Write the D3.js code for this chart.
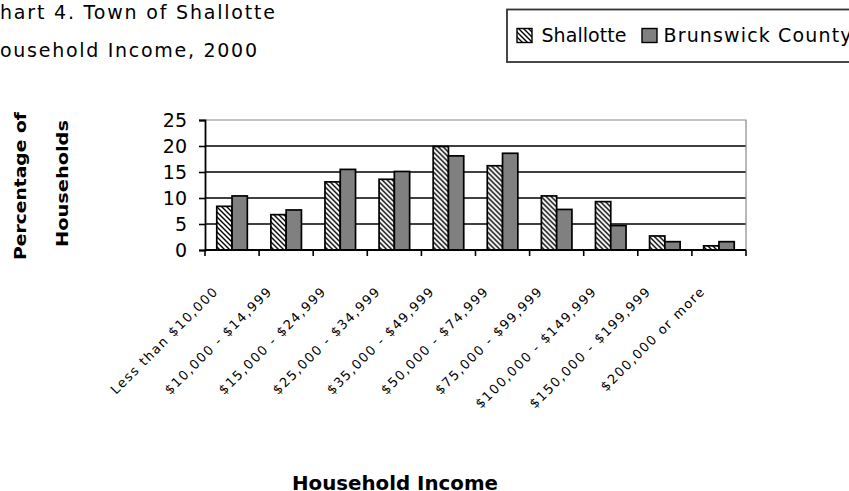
<!DOCTYPE html>
<html><head><meta charset="utf-8">
<script src="https://cdn.jsdelivr.net/npm/d3@7"></script>
<style>
html,body{margin:0;padding:0;background:#fff;}
svg{display:block;}
text{font-family:"DejaVu Sans",sans-serif;fill:#000;}
</style></head>
<body>
<svg id="chart" width="849" height="491"></svg>
<script>
const categories = ["Less than $10,000","$10,000 - $14,999","$15,000 - $24,999","$25,000 - $34,999","$35,000 - $49,999","$50,000 - $74,999","$75,000 - $99,999","$100,000 - $149,999","$150,000 - $199,999","$200,000 or more"];
const seriesNames = ["Shallotte","Brunswick County"];
const shallotte = [8.4, 6.8, 13.1, 13.6, 19.9, 16.2, 10.4, 9.3, 2.7, 0.8];
const brunswick = [10.4, 7.7, 15.5, 15.1, 18.1, 18.6, 7.8, 4.7, 1.6, 1.6];
const yTicks = [0, 5, 10, 15, 20, 25];
const titleLines = ["Chart 4. Town of Shallotte", "Household Income, 2000"];
const yTitle = ["Percentage of", "Households"];
const xTitle = "Household Income";

(function(){
const svg = d3.select("#chart");
const pLeft = 205, pRight = 746, pTop = 120, pBottom = 250;

const x0 = d3.scaleBand().domain(categories).range([pLeft, pRight]).padding(0);
const x1 = d3.scaleBand().domain(seriesNames).range([0, x0.bandwidth()]).paddingInner(0).paddingOuter(0.77);
const y = d3.scaleLinear().domain([0, 25]).range([pBottom, pTop]);

const defs = svg.append("defs");
const pat = defs.append("pattern").attr("id","hatch").attr("patternUnits","userSpaceOnUse")
  .attr("width",5).attr("height",5);
pat.append("rect").attr("width",5).attr("height",5).attr("fill","#fff");
pat.append("path").attr("d","M-1,-1 L6,6 M-1,4 L1,6 M4,-1 L6,1").attr("stroke","#000").attr("stroke-width",1.4);

const fills = {"Shallotte":"url(#hatch)","Brunswick County":"#808080"};

svg.append("g").selectAll("line").data(yTicks.filter(d => d > 0 && d < 25)).join("line")
  .attr("x1", pLeft).attr("x2", pRight).attr("y1", d => y(d)).attr("y2", d => y(d))
  .attr("stroke","#000").attr("stroke-width",1.6);
svg.append("path").attr("d", `M${pLeft},${y(25)}H${pRight}V${pBottom}`).attr("fill","none")
  .attr("stroke","#888").attr("stroke-width",1.2);

const data = categories.map((c,i) => ({cat:c, vals:[{s:"Shallotte",v:shallotte[i]},{s:"Brunswick County",v:brunswick[i]}]}));
const g = svg.append("g");
g.selectAll("g").data(data).join("g").attr("transform", d => `translate(${x0(d.cat)},0)`)
  .selectAll("rect").data(d => d.vals).join("rect")
  .attr("x", d => x1(d.s)).attr("width", x1.bandwidth())
  .attr("y", d => y(d.v)).attr("height", d => y(0) - y(d.v))
  .attr("fill", d => fills[d.s]).attr("stroke","#000").attr("stroke-width",1.7);

const yAxis = d3.axisLeft(y).tickValues(yTicks).tickSize(6).tickPadding(12);
const ya = svg.append("g").attr("transform",`translate(${pLeft},0)`).call(yAxis);
ya.select(".domain").attr("stroke","#000").attr("stroke-width",1.8);
ya.selectAll(".tick line").attr("stroke","#000").attr("stroke-width",1.6);
ya.selectAll(".tick text").attr("font-size",19).attr("font-family","DejaVu Sans").attr("fill","#000");

const xa = svg.append("g").attr("transform",`translate(0,${pBottom})`);
xa.append("line").attr("x1",pLeft).attr("x2",pRight).attr("stroke","#000").attr("stroke-width",1.8);
const bounds = categories.map(c => x0(c)).concat([pRight]);
xa.selectAll("line.tk").data(bounds).join("line").attr("class","tk")
  .attr("x1", d=>d).attr("x2", d=>d).attr("y1",0).attr("y2",6).attr("stroke","#000").attr("stroke-width",1.6);
xa.selectAll("text").data(categories).join("text")
  .attr("transform", d => `translate(${x0(d)+x0.bandwidth()/2-13},42) rotate(-45)`)
  .attr("text-anchor","end").attr("font-size",13).style("letter-spacing","1.5px").text(d => d);

function fitCut(t, str, cut, visW){
  t.text(str).style("letter-spacing","0px");
  const node = t.node();
  const W = node.getComputedTextLength();
  const P = node.getSubStringLength(0, cut);
  const n = str.length;
  const ls = (visW - (W - P)) / (n - cut - 1);
  t.style("letter-spacing", ls + "px").attr("x", -(P + ls*cut));
}
const t1 = svg.append("text").attr("y",18.5).attr("font-size",19);
fitCut(t1, titleLines[0], 1, 275);
const t2 = svg.append("text").attr("y",57).attr("font-size",19);
fitCut(t2, titleLines[1], 1, 257);

const lg = svg.append("g");
lg.append("rect").attr("x",507).attr("y",9.5).attr("width",400).attr("height",52.5)
  .attr("fill","#fff").attr("stroke","#333").attr("stroke-width",1.8);
lg.append("rect").attr("x",517).attr("y",28.5).attr("width",15).attr("height",14)
  .attr("fill",fills["Shallotte"]).attr("stroke","#000").attr("stroke-width",1.4);
lg.append("text").attr("x",541.5).attr("y",42.3).attr("font-size",19).attr("textLength",85).attr("lengthAdjust","spacing").text(seriesNames[0]);
lg.append("rect").attr("x",642).attr("y",28.5).attr("width",15).attr("height",14)
  .attr("fill",fills["Brunswick County"]).attr("stroke","#000").attr("stroke-width",1.4);
lg.append("text").attr("x",663.5).attr("y",42.3).attr("font-size",19).attr("textLength",188).attr("lengthAdjust","spacing").text(seriesNames[1]);

svg.append("text").attr("transform","translate(25.5,186) rotate(-90)").attr("text-anchor","middle")
  .attr("font-size",15).attr("font-weight","bold").attr("textLength",148).attr("lengthAdjust","spacingAndGlyphs").text(yTitle[0]);
svg.append("text").attr("transform","translate(68,183.5) rotate(-90)").attr("text-anchor","middle")
  .attr("font-size",15).attr("font-weight","bold").attr("textLength",127).attr("lengthAdjust","spacingAndGlyphs").text(yTitle[1]);
svg.append("text").attr("x",395).attr("y",489.5).attr("text-anchor","middle")
  .attr("font-size",20).attr("font-weight","bold").attr("textLength",206).attr("lengthAdjust","spacingAndGlyphs").text(xTitle);
})();
</script>
</body></html>
